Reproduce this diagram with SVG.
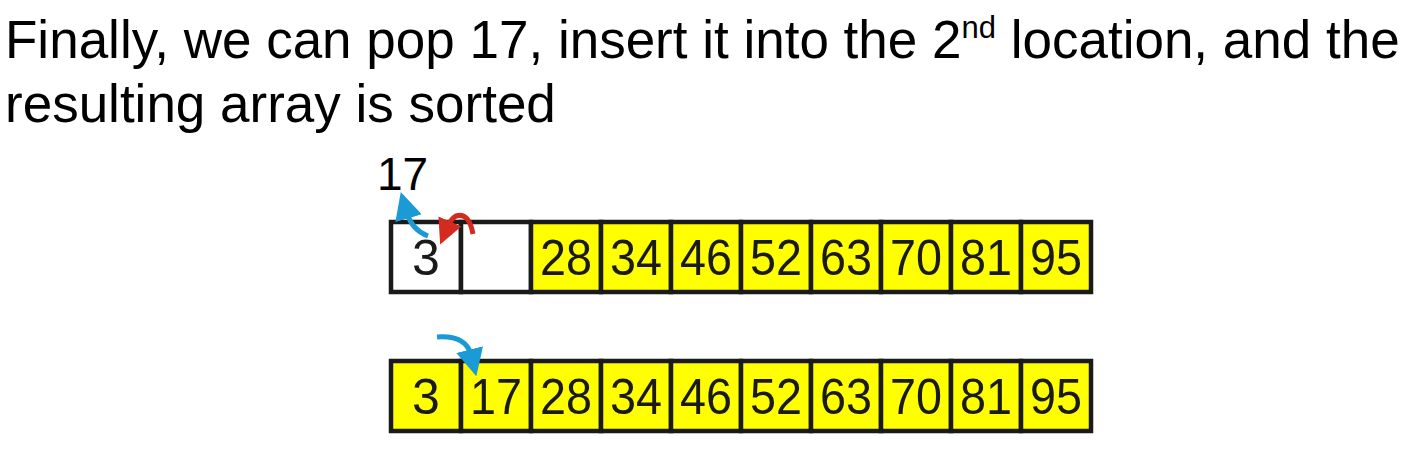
<svg xmlns="http://www.w3.org/2000/svg" width="1416" height="460" viewBox="0 0 1416 460">
<style>
.t{font-family:"Liberation Sans",Arial,sans-serif;fill:#000}
.title{font-size:53px}
.cell{stroke:#1a1a1a;stroke-width:4.5}
.w{fill:#fff}
.y{fill:#ffff00}
.num{font-family:"Liberation Sans",Arial,sans-serif;font-size:50px;fill:#1a1a1a;text-anchor:middle}
.blue{fill:none;stroke:#1b9ad6;stroke-width:5}
.red{fill:none;stroke:#d42a20;stroke-width:5}
</style>
<defs>
<marker id="ab" viewBox="0 0 10 10" refX="2" refY="5" markerWidth="5.5" markerHeight="5.5" orient="auto" markerUnits="strokeWidth"><path d="M0,0 L10,5 L0,10 z" fill="#1b9ad6"/></marker>
<marker id="ar" viewBox="0 0 10 10" refX="2" refY="5" markerWidth="5" markerHeight="5" orient="auto" markerUnits="strokeWidth"><path d="M0,0 L10,5 L0,10 z" fill="#d42a20"/></marker>
</defs>
<rect width="1416" height="460" fill="#fff"/>
<g id="title">
<text class="t title" x="5" y="58">Finally, we can pop 17, insert it into the 2<tspan font-size="31" dy="-20">nd</tspan><tspan dy="20"> location, and the</tspan></text>
<text class="t title" x="5" y="122">resulting array is sorted</text>
</g>
<g id="label17"><text class="t" x="377" y="190" font-size="46">17</text></g>
<g id="row1">
<rect class="cell w" x="391" y="222" width="70" height="70"/><text class="num" x="426" y="275">3</text>
<rect class="cell w" x="461" y="222" width="70" height="70"/>
<rect class="cell y" x="531" y="222" width="70" height="70"/><text class="num" x="566" y="275" textLength="52" lengthAdjust="spacingAndGlyphs">28</text>
<rect class="cell y" x="601" y="222" width="70" height="70"/><text class="num" x="636" y="275" textLength="52" lengthAdjust="spacingAndGlyphs">34</text>
<rect class="cell y" x="671" y="222" width="70" height="70"/><text class="num" x="706" y="275" textLength="52" lengthAdjust="spacingAndGlyphs">46</text>
<rect class="cell y" x="741" y="222" width="70" height="70"/><text class="num" x="776" y="275" textLength="52" lengthAdjust="spacingAndGlyphs">52</text>
<rect class="cell y" x="811" y="222" width="70" height="70"/><text class="num" x="846" y="275" textLength="52" lengthAdjust="spacingAndGlyphs">63</text>
<rect class="cell y" x="881" y="222" width="70" height="70"/><text class="num" x="916" y="275" textLength="52" lengthAdjust="spacingAndGlyphs">70</text>
<rect class="cell y" x="951" y="222" width="70" height="70"/><text class="num" x="986" y="275" textLength="52" lengthAdjust="spacingAndGlyphs">81</text>
<rect class="cell y" x="1021" y="222" width="70" height="70"/><text class="num" x="1056" y="275" textLength="52" lengthAdjust="spacingAndGlyphs">95</text>
</g>
<g id="row2">
<rect class="cell y" x="391" y="361" width="70" height="70"/><text class="num" x="426" y="414">3</text>
<rect class="cell y" x="461" y="361" width="70" height="70"/><text class="num" x="496" y="414" textLength="52" lengthAdjust="spacingAndGlyphs">17</text>
<rect class="cell y" x="531" y="361" width="70" height="70"/><text class="num" x="566" y="414" textLength="52" lengthAdjust="spacingAndGlyphs">28</text>
<rect class="cell y" x="601" y="361" width="70" height="70"/><text class="num" x="636" y="414" textLength="52" lengthAdjust="spacingAndGlyphs">34</text>
<rect class="cell y" x="671" y="361" width="70" height="70"/><text class="num" x="706" y="414" textLength="52" lengthAdjust="spacingAndGlyphs">46</text>
<rect class="cell y" x="741" y="361" width="70" height="70"/><text class="num" x="776" y="414" textLength="52" lengthAdjust="spacingAndGlyphs">52</text>
<rect class="cell y" x="811" y="361" width="70" height="70"/><text class="num" x="846" y="414" textLength="52" lengthAdjust="spacingAndGlyphs">63</text>
<rect class="cell y" x="881" y="361" width="70" height="70"/><text class="num" x="916" y="414" textLength="52" lengthAdjust="spacingAndGlyphs">70</text>
<rect class="cell y" x="951" y="361" width="70" height="70"/><text class="num" x="986" y="414" textLength="52" lengthAdjust="spacingAndGlyphs">81</text>
<rect class="cell y" x="1021" y="361" width="70" height="70"/><text class="num" x="1056" y="414" textLength="52" lengthAdjust="spacingAndGlyphs">95</text>
</g>
<g id="connectors">
<path class="blue" d="M428,236 Q412,230 407,213" marker-end="url(#ab)"/>
<path class="red" d="M473,234 Q469,212 456,216 Q451,219 448,226" marker-end="url(#ar)"/>
<path class="blue" d="M437,337 Q466,335 471,355" marker-end="url(#ab)"/>
</g>
</svg>
